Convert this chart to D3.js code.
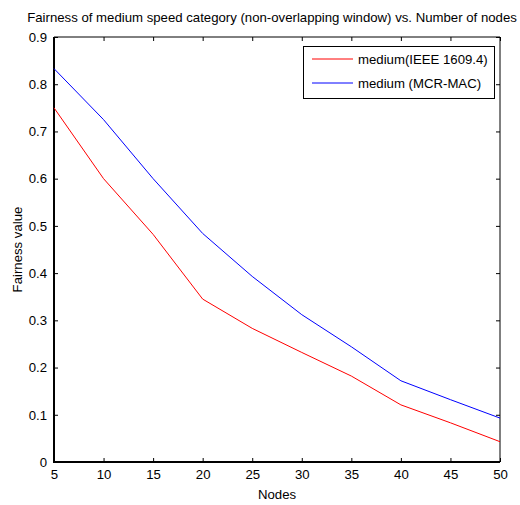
<!DOCTYPE html>
<html><head><meta charset="utf-8">
<script src="https://cdn.jsdelivr.net/npm/d3@7"></script>
<style>body{margin:0;background:#fff;} svg{display:block;} text{font-family:Arial,"Liberation Sans",sans-serif;fill:#000;}</style>
</head><body><svg id="c" width="520" height="505"></svg>
<script>
const nodes = [5,10,15,20,25,30,35,40,45,50];
const ieee = [0.75,0.60,0.482,0.345,0.283,0.232,0.182,0.121,0.083,0.043];
const mcr  = [0.833,0.725,0.60,0.484,0.393,0.312,0.244,0.172,0.132,0.093];
const xTicks = [5,10,15,20,25,30,35,40,45,50];
const yTicks = [0,0.1,0.2,0.3,0.4,0.5,0.6,0.7,0.8,0.9];
const seriesNames = ["medium(IEEE 1609.4)","medium (MCR-MAC)"];
const seriesColors = ["#ff0000","#0000ff"];

const svg = d3.select("#c");
const L=54,R=500,T=37,B=462;
const FS=13.2;
const x = d3.scaleLinear().domain([5,50]).range([L,R]);
const y = d3.scaleLinear().domain([0,0.9]).range([B,T]);

svg.append("line").attr("x1",L).attr("x2",R).attr("y1",T).attr("y2",T).attr("stroke","#000").attr("stroke-width",1);
svg.append("line").attr("x1",R).attr("x2",R).attr("y1",T).attr("y2",B).attr("stroke","#000").attr("stroke-width",1);

const fmt = d => d===0 ? "0" : d3.format(".1f")(d);
svg.append("g").attr("transform",`translate(0,${B})`)
  .call(d3.axisBottom(x).tickValues(xTicks).tickSize(-4).tickPadding(8).tickFormat(d3.format("d")));
svg.append("g").attr("transform",`translate(0,${T})`)
  .call(d3.axisTop(x).tickValues(xTicks).tickSize(-4).tickFormat(""));
svg.append("g").attr("transform",`translate(${L},0)`)
  .call(d3.axisLeft(y).tickValues(yTicks).tickSize(-4).tickPadding(7).tickFormat(fmt));
svg.append("g").attr("transform",`translate(${R},0)`)
  .call(d3.axisRight(y).tickValues(yTicks).tickSize(-4).tickFormat(""));
svg.selectAll(".domain").remove();
svg.selectAll(".tick line").attr("stroke","#000").attr("stroke-width",1);
svg.selectAll(".tick text").attr("font-size",FS).attr("font-family","Arial,'Liberation Sans',sans-serif").attr("fill","#000");

svg.append("line").attr("x1",L-1).attr("x2",R).attr("y1",B).attr("y2",B).attr("stroke","#000").attr("stroke-width",2);
svg.append("line").attr("x1",L).attr("x2",L).attr("y1",T).attr("y2",B+1).attr("stroke","#000").attr("stroke-width",2);

const line = d3.line().x((d,i)=>x(nodes[i])).y(d=>y(d));
[ieee,mcr].forEach((s,k)=>{
  svg.append("path").datum(s).attr("d",line).attr("fill","none")
    .attr("stroke",seriesColors[k]).attr("stroke-width",1);
});

const lg = svg.append("g");
lg.append("rect").attr("x",303.5).attr("y",46.5).attr("width",191).attr("height",52)
  .attr("fill","#fff").attr("stroke","#000").attr("stroke-width",1);
seriesNames.forEach((n,i)=>{
  const yy = 59 + i*24;
  lg.append("line").attr("x1",312).attr("x2",353).attr("y1",yy).attr("y2",yy)
    .attr("stroke",seriesColors[i]).attr("stroke-width",1);
  lg.append("text").attr("x",358).attr("y",yy+5).attr("font-size",FS).text(n);
});

svg.append("text").attr("x",272).attr("y",22).attr("text-anchor","middle").attr("font-size",FS)
  .text("Fairness of medium speed category (non-overlapping window) vs. Number of nodes");
svg.append("text").attr("x",(L+R)/2).attr("y",499).attr("text-anchor","middle").attr("font-size",FS).text("Nodes");
svg.append("text").attr("transform",`translate(22,${(T+B)/2}) rotate(-90)`).attr("text-anchor","middle").attr("font-size",FS).text("Fairness value");
</script></body></html>
